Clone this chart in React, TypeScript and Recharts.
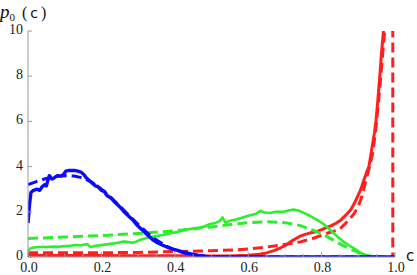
import { Line, LineChart, XAxis, YAxis } from "recharts";

const BLUE = "#0a0aff";
const GREEN = "#2bef2b";
const RED = "#ff1f1f";
const AXIS = "#9a9a9a";
const SERIF = "'Times New Roman', Times, 'Liberation Serif', 'DejaVu Serif', 'Noto Serif', serif";

// [c, p0(c)] pairs
const blueSim: [number, number][] = [
  [0, 1.5], [0.004, 2.3], [0.008, 2.85], [0.015, 2.95], [0.025, 3.0], [0.032, 2.95],
  [0.038, 3.1], [0.045, 3.2], [0.05, 3.15], [0.058, 3.6], [0.065, 3.45], [0.071, 3.5],
  [0.08, 3.6], [0.09, 3.58], [0.097, 3.65], [0.103, 3.8], [0.112, 3.83], [0.126, 3.83],
  [0.136, 3.8], [0.144, 3.76], [0.152, 3.65], [0.158, 3.52], [0.166, 3.4], [0.176, 3.25],
  [0.183, 3.15], [0.19, 3.12], [0.2, 2.95], [0.208, 2.9], [0.215, 2.72], [0.227, 2.6],
  [0.235, 2.45], [0.245, 2.3], [0.254, 2.15], [0.262, 2.0], [0.268, 1.9], [0.276, 1.78],
  [0.285, 1.65], [0.295, 1.45], [0.304, 1.3], [0.313, 1.18], [0.322, 1.03], [0.331, 0.9],
  [0.34, 0.76], [0.353, 0.63], [0.367, 0.52], [0.38, 0.43], [0.395, 0.35], [0.41, 0.28],
  [0.422, 0.22], [0.436, 0.17], [0.45, 0.12], [0.465, 0.07], [0.477, 0.04], [0.49, 0.01],
  [0.5, 0], [1, 0],
];
const blueTheory: [number, number][] = [
  [0, 3.2], [0.025, 3.35], [0.05, 3.48], [0.075, 3.57], [0.1, 3.6], [0.125, 3.58],
  [0.15, 3.5], [0.175, 3.3], [0.2, 3.0], [0.225, 2.65], [0.25, 2.25], [0.275, 1.85],
  [0.3, 1.45], [0.325, 1.07], [0.35, 0.75], [0.375, 0.5], [0.4, 0.31], [0.425, 0.18],
  [0.45, 0.1], [0.475, 0.05], [0.5, 0.02], [0.55, 0], [1, 0],
];
const greenSim: [number, number][] = [
  [0, 0.23], [0.006, 0.38], [0.015, 0.42], [0.03, 0.44], [0.05, 0.44], [0.07, 0.46],
  [0.085, 0.45], [0.1, 0.48], [0.115, 0.5], [0.13, 0.53], [0.145, 0.52], [0.162, 0.57],
  [0.17, 0.44], [0.18, 0.48], [0.2, 0.53], [0.22, 0.57], [0.245, 0.63], [0.26, 0.68],
  [0.27, 0.67], [0.285, 0.63], [0.295, 0.68], [0.304, 0.75], [0.33, 0.87], [0.35, 0.93],
  [0.367, 0.97], [0.38, 1.02], [0.395, 1.07], [0.41, 1.12], [0.43, 1.22], [0.45, 1.26],
  [0.468, 1.3], [0.48, 1.35], [0.495, 1.45], [0.51, 1.5], [0.523, 1.6], [0.53, 1.75],
  [0.538, 1.52], [0.55, 1.6], [0.569, 1.67], [0.585, 1.75], [0.605, 1.85], [0.62, 1.9],
  [0.633, 2.04], [0.645, 1.97], [0.66, 1.95], [0.675, 2.0], [0.696, 2.0], [0.71, 2.06],
  [0.724, 2.1], [0.738, 2.05], [0.751, 1.95], [0.765, 1.85], [0.778, 1.73], [0.79, 1.62],
  [0.806, 1.45], [0.82, 1.25], [0.833, 1.05], [0.846, 0.86], [0.86, 0.67], [0.874, 0.52],
  [0.888, 0.38], [0.9, 0.25], [0.912, 0.14], [0.925, 0.06], [0.94, 0.01], [0.95, 0],
];
const greenTheory: [number, number][] = [
  [0, 0.82], [0.1, 0.88], [0.2, 0.95], [0.3, 1.04], [0.4, 1.16], [0.5, 1.33], [0.55, 1.44],
  [0.6, 1.52], [0.65, 1.56], [0.7, 1.52], [0.74, 1.4], [0.78, 1.17], [0.815, 0.9],
  [0.85, 0.58], [0.88, 0.34], [0.9, 0.2], [0.925, 0.06], [0.95, 0],
];
const redSim: [number, number][] = [
  [0, 0.08], [0.1, 0.07], [0.2, 0.07], [0.3, 0.06], [0.4, 0.05], [0.5, 0.04], [0.55, 0.04],
  [0.6, 0.08], [0.63, 0.12], [0.65, 0.18], [0.67, 0.28], [0.69, 0.42], [0.705, 0.55],
  [0.715, 0.67], [0.73, 0.82], [0.742, 0.92], [0.755, 1.0], [0.77, 1.07], [0.785, 1.12],
  [0.797, 1.19], [0.81, 1.28], [0.825, 1.38], [0.84, 1.5], [0.852, 1.63], [0.866, 1.85],
  [0.88, 2.1], [0.89, 2.4], [0.9, 2.75], [0.907, 3.0], [0.915, 3.4], [0.922, 3.72],
  [0.929, 4.0], [0.934, 4.5], [0.939, 5.0], [0.944, 5.5], [0.948, 6.0], [0.952, 6.7],
  [0.956, 7.5], [0.96, 8.3], [0.963, 9.0], [0.967, 9.7], [0.97, 10.3], [0.973, 11],
];
const redTheory: [number, number][] = [
  [0, 0.19], [0.1, 0.19], [0.2, 0.19], [0.3, 0.2], [0.4, 0.24], [0.468, 0.26], [0.5, 0.28],
  [0.56, 0.31], [0.6, 0.36], [0.65, 0.44], [0.705, 0.57], [0.742, 0.67], [0.778, 0.83],
  [0.815, 1.05], [0.843, 1.19], [0.852, 1.28], [0.866, 1.5], [0.888, 1.9], [0.9, 2.25],
  [0.907, 2.55], [0.915, 3.0], [0.92, 3.35], [0.93, 3.95], [0.939, 4.57], [0.948, 5.7],
  [0.956, 7.0], [0.963, 8.3], [0.968, 9.3], [0.972, 10.0], [0.976, 11], [0.994, 11],
  [0.994, 0],
];

const X_MAJOR = [0, 0.2, 0.4, 0.6, 0.8, 1.0];
const X_MINOR = [0.05, 0.1, 0.15, 0.25, 0.3, 0.35, 0.45, 0.5, 0.55, 0.65, 0.7, 0.75, 0.85, 0.9, 0.95];
const Y_TICKS = [0, 2, 4, 6, 8, 10];

const toRows = (pts: [number, number][]) => pts.map(([c, p]) => ({ c, p }));

const XTick = (props: any) => {
  const { x, y, payload } = props;
  const v = payload.value as number;
  const major = X_MAJOR.some((m) => Math.abs(m - v) < 1e-6);
  return (
    <g>
      <line x1={x} x2={x} y1={y} y2={y - (major ? 5 : 3)} stroke={AXIS} />
      {major && (
        <text x={x + 1} y={y + 15} textAnchor="middle" fontFamily={SERIF} fontSize={14} fill="#222">
          {v.toFixed(1)}
        </text>
      )}
    </g>
  );
};

const YTick = (props: any) => {
  const { x, y, payload } = props;
  return (
    <g>
      <line x1={x} x2={x + 4} y1={y} y2={y} stroke={AXIS} />
      <text x={x - 5} y={y + 3} textAnchor="end" fontFamily={SERIF} fontSize={14} fill="#222">
        {payload.value}
      </text>
    </g>
  );
};

const series = [
  { data: toRows(redTheory), color: RED, dash: "10 5", width: 3 },
  { data: toRows(redSim), color: RED, dash: undefined, width: 3 },
  { data: toRows(greenTheory), color: GREEN, dash: "10 5", width: 3 },
  { data: toRows(greenSim), color: GREEN, dash: undefined, width: 2.6 },
  { data: toRows(blueTheory), color: BLUE, dash: "10 5", width: 3 },
  { data: toRows(blueSim), color: BLUE, dash: undefined, width: 3.4 },
];

export default function App() {
  return (
    <div style={{ position: "absolute", left: 0, top: 0, width: 417, height: 275, background: "#fff" }}>
      <LineChart width={417} height={275} margin={{ top: 31, right: 22, left: 0, bottom: 0 }}>
        <XAxis
          dataKey="c"
          type="number"
          domain={[0, 1]}
          ticks={[...X_MAJOR, ...X_MINOR].sort((a, b) => a - b)}
          interval={0}
          height={18}
          tickSize={0}
          tickMargin={0}
          tickLine={false}
          axisLine={{ stroke: AXIS }}
          tick={XTick}
          allowDataOverflow
        />
        <YAxis
          dataKey="p"
          type="number"
          domain={[0, 10]}
          ticks={Y_TICKS}
          interval={0}
          width={28}
          tickSize={0}
          tickMargin={0}
          tickLine={false}
          axisLine={{ stroke: AXIS }}
          tick={YTick}
          allowDataOverflow
        />
        {series.map((s, i) => (
          <Line
            key={i}
            data={s.data}
            dataKey="p"
            type="linear"
            stroke={s.color}
            strokeWidth={s.width}
            strokeDasharray={s.dash}
            strokeLinejoin="round"
            dot={false}
            activeDot={false}
            isAnimationActive={false}
          />
        ))}
      </LineChart>
      <div style={{ position: "absolute", left: 0, top: 1, fontFamily: SERIF, fontSize: 16, whiteSpace: "nowrap", color: "#111" }}>
        <span style={{ fontStyle: "italic", fontSize: 19 }}>p</span>
        <span style={{ fontSize: 11, position: "relative", top: 3 }}>0</span>
        <span style={{ marginLeft: 7 }}>(</span>
        <span style={{ fontFamily: "'DejaVu Sans', sans-serif", fontSize: 14, margin: "0 3px" }}>c</span>
        <span>)</span>
      </div>
      <div style={{ position: "absolute", left: 406, top: 247, fontFamily: "'DejaVu Sans', sans-serif", fontSize: 15, color: "#111" }}>
        c
      </div>
    </div>
  );
}
